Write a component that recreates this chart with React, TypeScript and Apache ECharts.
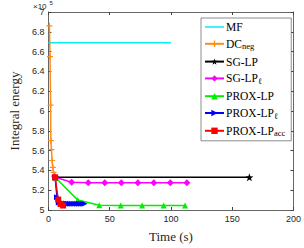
import React, { useEffect, useRef } from "react";
import * as echarts from "echarts";

const xTicks = { min: 0, max: 200, interval: 50 };
const yTicks = { min: 5, max: 7, interval: 0.2 };

const mfX = [0, 100];
const mfY = [6.69, 6.69];

const dcX = [0.8, 1.3, 1.8, 2.0, 2.5, 3.0, 3.6, 4.2, 4.8, 5.5];
const dcY = [6.86, 6.55, 6.06, 5.70, 5.61, 5.50, 5.43, 5.38, 5.35, 5.33];

const sgX = [5.5, 164];
const sgY = [5.33, 5.33];

const sglX = [5.5, 19, 32.5, 46, 59.5, 73, 86, 99.5, 113];
const sglY = [5.33, 5.28, 5.275, 5.275, 5.275, 5.275, 5.275, 5.275, 5.275];

const proxX = [5.5, 24, 41.5, 59, 76.5, 94, 111.5];
const proxY = [5.33, 5.10, 5.047, 5.046, 5.046, 5.046, 5.046];

const proxlX = [5.5, 7, 8.5, 10, 11.5, 13, 14.5, 16, 17.5, 19, 20.5, 22, 23.5, 25, 26.5, 28, 29.5];
const proxlY = [5.33, 5.13, 5.075, 5.068, 5.066, 5.065, 5.065, 5.064, 5.064, 5.064, 5.064, 5.063, 5.063, 5.063, 5.063, 5.063, 5.063];

const accX = [5.5, 8, 10, 12];
const accY = [5.33, 5.105, 5.06, 5.045];

const names = ["MF", "DC_neg", "SG-LP", "SG-LP_l", "PROX-LP", "PROX-LP_ell", "PROX-LP_acc"];

const plus = "path://M-1,-5H1V-1H5V1H1V5H-1V1H-5V-1H-1Z";
const star = "path://M0,-10L2.35,-3.24L9.51,-3.09L3.8,1.24L5.88,8.09L0,4L-5.88,8.09L-3.8,1.24L-9.51,-3.09L-2.35,-3.24Z";
const rtri = "path://M0,0L10,5L0,10Z";

const zip = (xs: number[], ys: number[]) => xs.map((x, i) => [x, ys[i]]);

export default function App() {
  const ref = useRef<HTMLDivElement>(null);
  useEffect(() => {
    if (!ref.current) return;
    document.body.style.margin = "0";
    const chart = echarts.init(ref.current, null, { renderer: "svg" });
    const axisCol = "#404040";
    const serif = "Liberation Serif";
    const mk = (name: string, xs: number[], ys: number[], color: string, symbol: string, size: number) => ({
      name,
      type: "line",
      data: zip(xs, ys),
      symbol,
      symbolSize: size,
      showSymbol: symbol !== "none",
      lineStyle: { color, width: 1.5 },
      itemStyle: { color, borderWidth: 0 },
      emphasis: { disabled: true },
      z: 2,
    });
    chart.setOption({
      animation: false,
      grid: { left: 31, right: 9, top: 12, bottom: 28 },
      xAxis: [
        {
          type: "value", ...xTicks, position: "bottom",
          name: "Time (s)", nameLocation: "middle", nameGap: 20,
          nameTextStyle: { fontFamily: serif, fontSize: 13, color: "#262626" },
          axisLine: { show: true, lineStyle: { color: axisCol, width: 0.8 } },
          axisTick: { show: true, inside: true, length: 3, lineStyle: { color: axisCol } },
          axisLabel: { fontFamily: "Liberation Sans", fontSize: 9, color: "#262626", margin: 4 },
          splitLine: { show: false },
        },
        {
          type: "value", ...xTicks, position: "top",
          axisLine: { show: true, onZero: false, lineStyle: { color: axisCol, width: 0.8 } },
          axisTick: { show: true, inside: true, length: 3, lineStyle: { color: axisCol } },
          axisLabel: { show: false },
          splitLine: { show: false },
        },
      ],
      yAxis: [
        {
          type: "value", ...yTicks, position: "left",
          name: "Integral energy", nameLocation: "middle", nameGap: 24,
          nameTextStyle: { fontFamily: serif, fontSize: 13, color: "#262626" },
          axisLine: { show: true, lineStyle: { color: axisCol, width: 0.8 } },
          axisTick: { show: true, inside: true, length: 3, lineStyle: { color: axisCol } },
          axisLabel: { fontFamily: "Liberation Sans", fontSize: 9, color: "#262626", margin: 4 },
          splitLine: { show: false },
        },
        {
          type: "value", ...yTicks, position: "right",
          axisLine: { show: true, onZero: false, lineStyle: { color: axisCol, width: 0.8 } },
          axisTick: { show: true, inside: true, length: 3, lineStyle: { color: axisCol } },
          axisLabel: { show: false },
          splitLine: { show: false },
        },
      ],
      legend: {
        left: 201, top: 18, orient: "vertical",
        width: 90,
        padding: [3, 6, 3, 3],
        itemGap: 4.8, itemWidth: 19, itemHeight: 8,
        backgroundColor: "#fff", borderColor: axisCol, borderWidth: 0.6, borderRadius: 0,
        data: names.map((n) => (n === "MF" ? { name: n, icon: "path://M0,0H19V1.5H0Z" } : { name: n })),
        selectedMode: false,
        formatter: (n: string) => {
          if (n === "DC_neg") return "DC{s|neg}";
          if (n === "SG-LP_l") return "SG-LP{s|ℓ}";
          if (n === "PROX-LP_ell") return "PROX-LP{s|ℓ}";
          if (n === "PROX-LP_acc") return "PROX-LP{s|acc}";
          return n;
        },
        textStyle: {
          fontFamily: serif, fontSize: 11.5, color: "#000", padding: [0, 0, 0, -3],
          rich: { s: { fontFamily: serif, fontSize: 8.5, verticalAlign: "bottom", padding: [5, 0, 0, 0] } },
        },
      },
      graphic: [
        {
          type: "text", left: 33, top: 2,
          style: { text: "×10", font: "8px Liberation Sans", fill: "#262626" },
        },
        {
          type: "text", left: 49.5, top: 0,
          style: { text: "5", font: "6px Liberation Sans", fill: "#262626" },
        },
      ],
      series: [
        mk("MF", mfX, mfY, "#00f0f0", "none", 0),
        mk("DC_neg", dcX, dcY, "#ff8c1a", plus, 6),
        mk("SG-LP", sgX, sgY, "#000000", star, 8),
        mk("SG-LP_l", sglX, sglY, "#ff00ff", "diamond", 7),
        mk("PROX-LP", proxX, proxY, "#00ee00", "triangle", 6),
        mk("PROX-LP_ell", proxlX, proxlY, "#0000ff", rtri, 6),
        mk("PROX-LP_acc", accX, accY, "#ff0000", "rect", 6),
      ],
    });
    return () => chart.dispose();
  }, []);
  return <div ref={ref} style={{ width: 304, height: 248 }} />;
}
